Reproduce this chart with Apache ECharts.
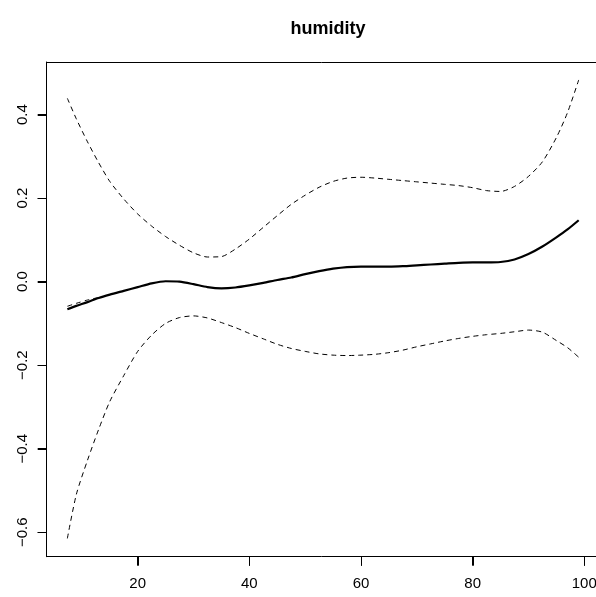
<!DOCTYPE html>
<html>
<head>
<meta charset="utf-8">
<title>humidity</title>
<script src="https://cdn.jsdelivr.net/npm/echarts@6/dist/echarts.min.js"></script>
<style>
  html, body { margin: 0; padding: 0; background: #fff; }
  #chart { width: 596px; height: 597px; }
</style>
</head>
<body>
<div id="chart"></div>
<script>
// Smooth term for humidity with its upper / lower confidence bands
const humidity = [7.4, 9, 11, 13, 15, 17.5, 20, 22.5, 25, 27.5, 30, 32.5, 35, 37.5, 40, 42.5,
  45, 47.5, 50, 52.5, 55, 57.5, 60, 62.5, 65, 67.5, 70, 72.5, 75, 77.5, 80, 82.5, 85, 87.5,
  90, 92.5, 95, 97, 99];

const fitValues = [-0.066, -0.058, -0.049, -0.039, -0.031, -0.022, -0.013, -0.004, 0.001, 0.000,
  -0.006, -0.013, -0.016, -0.014, -0.009, -0.003, 0.004, 0.010, 0.018, 0.025, 0.031, 0.035,
  0.036, 0.036, 0.036, 0.037, 0.039, 0.041, 0.043, 0.045, 0.046, 0.046, 0.047, 0.053, 0.066,
  0.084, 0.106, 0.125, 0.147];

const upperValues = [0.439, 0.390, 0.335, 0.285, 0.240, 0.198, 0.162, 0.133, 0.108, 0.087,
  0.069, 0.059, 0.060, 0.078, 0.102, 0.130, 0.158, 0.185, 0.207, 0.226, 0.240, 0.248, 0.250,
  0.248, 0.245, 0.242, 0.239, 0.236, 0.233, 0.230, 0.225, 0.218, 0.216, 0.228, 0.252, 0.287,
  0.345, 0.405, 0.483];

const lowerValues = [-0.615, -0.510, -0.428, -0.354, -0.287, -0.225, -0.167, -0.128, -0.100,
  -0.086, -0.082, -0.087, -0.098, -0.110, -0.124, -0.137, -0.150, -0.160, -0.167, -0.173,
  -0.176, -0.177, -0.176, -0.174, -0.170, -0.164, -0.156, -0.149, -0.142, -0.136, -0.131,
  -0.127, -0.124, -0.120, -0.116, -0.121, -0.141, -0.158, -0.181];

// Second (dashed) fit that separates from the main curve only at low humidity
const altHumidity = [7.4, 9, 11, 13];
const altValues = [-0.059, -0.052, -0.044, -0.038];

const xTicks = [20, 40, 60, 80, 100];
const yTicks = [-0.6, -0.4, -0.2, 0.0, 0.2, 0.4];
const yTickLabels = ['-0.6', '-0.4', '-0.2', '0.0', '0.2', '0.4'];

// The plot box runs past the right edge of the page, so the x range stops at the page edge
const X_MIN = 3.699, X_MAX = 102.10;
const Y_MIN = -0.6587, Y_MAX = 0.526;
const TICK_LEN = 9;

const pairs = (xs, ys) => xs.map((x, i) => [x, ys[i]]);

const FONT = '"Liberation Sans", Arial, Helvetica, sans-serif';

const chart = echarts.init(document.getElementById('chart'), null, { renderer: 'canvas' });

const dashed = {
  type: 'line',
  showSymbol: false,
  smooth: 0.25,
  lineStyle: { color: '#000', width: 1, type: [5, 4] },
  emphasis: { disabled: true },
  silent: true
};

const black = { color: '#000', width: 1 };

chart.setOption({
  animation: false,
  backgroundColor: '#fff',
  title: {
    text: 'humidity',
    left: 323,
    top: 15,
    textAlign: 'center',
    textStyle: { fontFamily: FONT, fontWeight: 'bold', fontSize: 18, color: '#000' }
  },
  grid: {
    left: 46.7,
    top: 62,
    width: 549.3,
    height: 494.7,
    containLabel: false,
    outerBoundsMode: 'none'
  },
  xAxis: [
    {
      type: 'value', position: 'bottom', min: X_MIN, max: X_MAX,
      axisLine: { show: true, onZero: false, lineStyle: black },
      splitLine: { show: false },
      axisTick: { show: true, inside: false, length: TICK_LEN, customValues: xTicks, lineStyle: black },
      axisLabel: {
        customValues: xTicks,
        margin: 20,
        color: '#000',
        fontFamily: FONT,
        fontSize: 15,
        hideOverlap: false
      }
    },
    {
      type: 'value', position: 'top', min: X_MIN, max: X_MAX,
      axisLine: { show: true, onZero: false, lineStyle: black },
      axisTick: { show: false }, axisLabel: { show: false }, splitLine: { show: false }
    }
  ],
  yAxis: [
    {
      type: 'value', position: 'left', min: Y_MIN, max: Y_MAX,
      axisLine: { show: true, onZero: false, lineStyle: black },
      splitLine: { show: false },
      axisTick: { show: true, inside: false, length: TICK_LEN, customValues: yTicks, lineStyle: black },
      axisLabel: {
        customValues: yTicks,
        rotate: 90,
        margin: 16,
        color: '#000',
        fontFamily: FONT,
        fontSize: 15,
        formatter: function (v) {
          const i = yTicks.findIndex(t => Math.abs(t - v) < 1e-9);
          return i >= 0 ? yTickLabels[i].replace('-', '\u2212') : '';
        }
      }
    }
  ],
  series: [
    Object.assign({}, dashed, { name: 'upper', data: pairs(humidity, upperValues) }),
    Object.assign({}, dashed, { name: 'lower', data: pairs(humidity, lowerValues) }),
    Object.assign({}, dashed, { name: 'alt', data: pairs(altHumidity, altValues) }),
    {
      name: 'fit',
      type: 'line',
      showSymbol: false,
      smooth: 0.25,
      lineStyle: { color: '#000', width: 2.2 },
      emphasis: { disabled: true },
      silent: true,
      data: pairs(humidity, fitValues),
      z: 3
    }
  ]
});

// Outward tick marks, positioned through the axis scales
const tickStyle = { stroke: '#000', lineWidth: 1 };
const tickMarks = [];
xTicks.forEach(function (v) {
  const p = chart.convertToPixel({ xAxisIndex: 0, yAxisIndex: 0 }, [v, Y_MIN]);
  const x = Math.round(p[0]) + 0.5;
  tickMarks.push({
    type: 'line', silent: true, z: 100,
    shape: { x1: x, y1: p[1], x2: x, y2: p[1] + TICK_LEN },
    style: tickStyle
  });
});
yTicks.forEach(function (v) {
  const p = chart.convertToPixel({ xAxisIndex: 0, yAxisIndex: 0 }, [X_MIN, v]);
  const y = Math.round(p[1]) + 0.5;
  tickMarks.push({
    type: 'line', silent: true, z: 100,
    shape: { x1: p[0], y1: y, x2: p[0] - TICK_LEN, y2: y },
    style: tickStyle
  });
});
chart.setOption({ graphic: { elements: tickMarks } });
</script>
</body>
</html>
